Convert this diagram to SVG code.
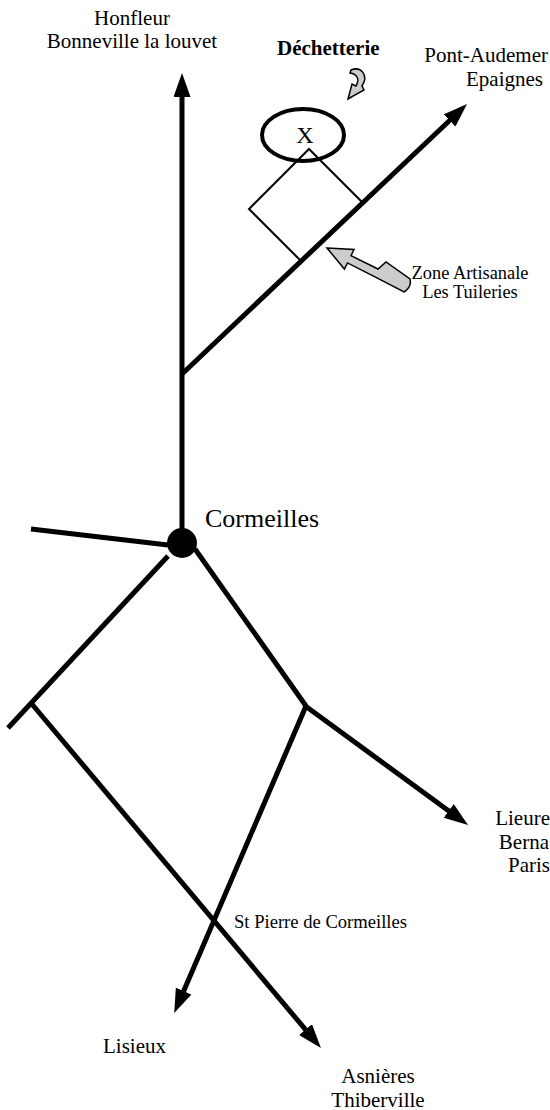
<svg xmlns="http://www.w3.org/2000/svg" width="550" height="1110" viewBox="0 0 550 1110">
<style>
.road{stroke:#000;stroke-width:5;fill:none}
.arr{marker-end:url(#ah)}
.t{font-family:"Liberation Serif","Times New Roman",serif;font-size:21px;fill:#000}
.callout{fill:#cccccc;stroke:#000;stroke-width:1.5;stroke-linejoin:miter}
</style>
<defs>
<marker id="ah" markerUnits="userSpaceOnUse" markerWidth="26" markerHeight="18" refX="4" refY="8.5" orient="auto" viewBox="0 0 26 18">
<path d="M0,0 L24,8.5 L0,17 Z" fill="#000"/>
</marker>
</defs>
<rect width="550" height="1110" fill="#fff"/>
<g id="connectors">
<line class="road arr" x1="182" y1="543" x2="182" y2="93"/>
<line class="road arr" x1="182" y1="374" x2="452.5" y2="117.7"/>
<line class="road" x1="31" y1="529" x2="168" y2="545"/>
<line class="road" x1="168" y1="556" x2="8" y2="728"/>
<line class="road arr" x1="31" y1="703" x2="308.1" y2="1032.7"/>
<line class="road" x1="195" y1="549" x2="306" y2="706"/>
<line class="road arr" x1="304" y1="705" x2="451.9" y2="813.2"/>
<line class="road arr" x1="306" y1="706" x2="182.1" y2="994.7"/>
</g>
<g id="cormeilles">
<circle cx="182" cy="543" r="15" fill="#000"/>
<text class="t" x="205" y="527" style="font-size:26px">Cormeilles</text>
</g>
<g id="zone-artisanale">
<polyline points="300,260 249,209 309,149 362,202" fill="none" stroke="#000" stroke-width="2"/>
<path class="callout" d="M327,248 L354,249.5 L351,255.7 L378,269 L386,262 L410,279 Q412,287 404,292 L374,276.4 L347.5,262.9 L344.4,269.1 Z"/>
<text class="t" x="470" y="279" text-anchor="middle" style="font-size:18.4px">Zone Artisanale</text>
<text class="t" x="470" y="298" text-anchor="middle" style="font-size:18.4px">Les Tuileries</text>
</g>
<g id="dechetterie">
<ellipse cx="303" cy="135" rx="41" ry="26" fill="none" stroke="#000" stroke-width="4"/>
<text class="t" x="305" y="143" text-anchor="middle" style="font-size:24px">X</text>
<path class="callout" d="M351,70 C361,66 369,75 362,86 L364,90 L348,99 L352,84 L356,86 C360,79 357,74 350,73 Z"/>
<text class="t" x="277" y="55" style="font-weight:bold">Déchetterie</text>
</g>
<g id="honfleur">
<text class="t" x="132" y="25" text-anchor="middle">Honfleur</text>
<text class="t" x="132" y="48" text-anchor="middle">Bonneville la louvet</text>
</g>
<g id="pont-audemer">
<text class="t" x="548" y="62" text-anchor="end">Pont-Audemer</text>
<text class="t" x="543" y="86" text-anchor="end">Epaignes</text>
</g>
<g id="lieure">
<text class="t" x="550" y="825" text-anchor="end">Lieure</text>
<text class="t" x="549" y="849" text-anchor="end">Berna</text>
<text class="t" x="550" y="872" text-anchor="end">Paris</text>
</g>
<g id="st-pierre">
<text class="t" x="234" y="928" style="font-size:18.6px">St Pierre de Cormeilles</text>
</g>
<g id="lisieux">
<text class="t" x="103" y="1053">Lisieux</text>
</g>
<g id="asnieres">
<text class="t" x="378" y="1083" text-anchor="middle">Asnières</text>
<text class="t" x="378" y="1107" text-anchor="middle">Thiberville</text>
</g>
</svg>
